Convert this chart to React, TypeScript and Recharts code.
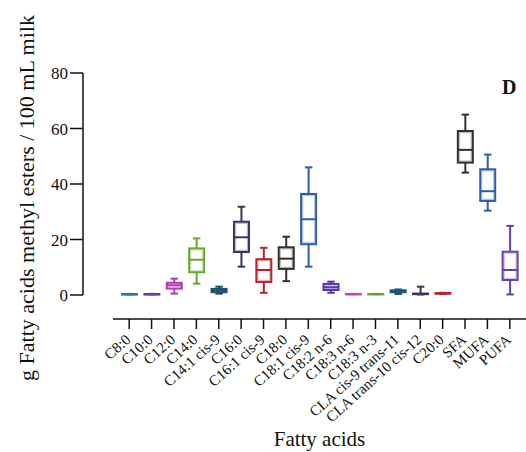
import React from "react";
import { ComposedChart, Bar, XAxis, YAxis } from "recharts";

const fattyAcids = [
  "C8:0",
  "C10:0",
  "C12:0",
  "C14:0",
  "C14:1 cis-9",
  "C16:0",
  "C16:1 cis-9",
  "C18:0",
  "C18:1 cis-9",
  "C18:2 n-6",
  "C18:3 n-6",
  "C18:3 n-3",
  "CLA cis-9 trans-11",
  "CLA trans-10 cis-12",
  "C20:0",
  "SFA",
  "MUFA",
  "PUFA",
];

// five-number summaries (g / 100 mL milk)
const minValues = [0.2, 0.2, 0.5, 4.1, 0.5, 10.2, 0.8, 5.0, 10.2, 0.8, 0.3, 0.3, 0.35, 0.2, 0.4, 44.1, 30.4, 0.2];
const q1Values = [0.25, 0.25, 2.3, 8.2, 1.0, 15.5, 4.7, 9.4, 18.3, 1.8, 0.32, 0.32, 1.0, 0.3, 0.5, 47.7, 33.9, 5.4];
const medianValues = [0.3, 0.3, 3.5, 12.7, 1.6, 20.8, 9.0, 13.1, 27.3, 2.8, 0.35, 0.35, 1.3, 0.4, 0.6, 52.3, 37.4, 9.0];
const q3Values = [0.35, 0.35, 4.4, 16.8, 2.2, 26.4, 12.9, 17.2, 36.4, 4.0, 0.38, 0.38, 1.7, 0.5, 0.7, 59.1, 45.3, 15.6];
const maxValues = [0.4, 0.4, 5.9, 20.4, 3.0, 31.8, 17.0, 21.0, 46.0, 4.8, 0.4, 0.4, 2.0, 3.0, 0.8, 65.0, 50.6, 24.9];

const yTicks = [0, 20, 40, 60, 80];

const boxColors = [
  "#3b6db3", "#6b3fa6", "#b43ab4", "#6aa834", "#1f4e66", "#3c3461",
  "#b3242f", "#2f3329", "#2f5da8", "#5b35a3", "#c246c2", "#62a534",
  "#1f5673", "#3c3461", "#b3242f", "#2f3329", "#2f5da8", "#6a3fb0",
];

const data = fattyAcids.map((name, i) => ({
  name,
  min: minValues[i],
  q1: q1Values[i],
  median: medianValues[i],
  q3: q3Values[i],
  max: maxValues[i],
}));

const serif = "'Liberation Serif', 'Times New Roman', serif";

function BoxShape(props: any) {
  const { x, y, width, height, payload, index } = props;
  const color = boxColors[index];
  const top = Math.min(y, y + height);
  const bottom = Math.max(y, y + height);
  const span = payload.max - payload.min;
  // linear position inside the min..max range bar
  const py = (v: number) => bottom - ((v - payload.min) / span) * (bottom - top);
  const cx = x + width / 2;
  const cap = width * 0.25;
  const yMax = py(payload.max);
  const yQ3 = py(payload.q3);
  const yMed = py(payload.median);
  const yQ1 = py(payload.q1);
  const yMin = py(payload.min);
  return (
    <g stroke={color} strokeWidth={2} fill="none">
      <line x1={cx} x2={cx} y1={yMax} y2={yQ3} />
      <line x1={cx} x2={cx} y1={yQ1} y2={yMin} />
      <line x1={cx - cap} x2={cx + cap} y1={yMax} y2={yMax} />
      <line x1={cx - cap} x2={cx + cap} y1={yMin} y2={yMin} />
      <rect x={x} y={yQ3} width={width} height={Math.max(yQ1 - yQ3, 0.5)} fill="#fff" />
      <rect
        x={x + 1.5}
        y={yQ3 + 1.5}
        width={width - 3}
        height={Math.max(yQ1 - yQ3 - 3, 0)}
        strokeOpacity={0.3}
        strokeWidth={1.5}
      />
      <line x1={x} x2={x + width} y1={yMed} y2={yMed} />
    </g>
  );
}

function XTick(props: any) {
  const { x, y, payload } = props;
  return (
    <g transform={`translate(${x},${y})`}>
      <text
        x={-5}
        y={9}
        textAnchor="end"
        transform="rotate(-42)"
        fontSize={15}
        fontFamily={serif}
        fill="#111"
      >
        {payload.value}
      </text>
    </g>
  );
}

function YTitle(props: any) {
  const { viewBox } = props;
  const cx = viewBox.x + 26;
  const cy = viewBox.y + viewBox.height / 2 + 14;
  return (
    <text
      x={cx}
      y={cy}
      transform={`rotate(-90, ${cx}, ${cy})`}
      textAnchor="middle"
      dominantBaseline="central"
      fontSize={22}
      fontFamily={serif}
      fill="#111"
    >
      g Fatty acids methyl esters / 100 mL milk
    </text>
  );
}

function XTitle(props: any) {
  const { viewBox } = props;
  return (
    <text
      x={viewBox.x + viewBox.width / 2}
      y={viewBox.y + viewBox.height - 6}
      textAnchor="middle"
      fontSize={21}
      fontFamily={serif}
      fill="#111"
    >
      Fatty acids
    </text>
  );
}

export default function App() {
  return (
    <div style={{ position: "absolute", left: 0, top: 0, width: 526, height: 452, background: "#fff" }}>
      <ComposedChart
        width={526}
        height={452}
        data={data}
        margin={{ top: 73, right: 0, bottom: 0, left: 0 }}
      >
        {/* spacer axes push the real axes away from the plot, Prism style */}
        <XAxis xAxisId="a-pad" dataKey="name" height={24} axisLine={false} tickLine={false} tick={false} />
        <XAxis
          xAxisId="b-main"
          dataKey="name"
          height={133}
          interval={0}
          padding={{ left: 5, right: 5 }}
          axisLine={{ stroke: "#111", strokeWidth: 1.5 }}
          tickLine={{ stroke: "#111", strokeWidth: 1.5 }}
          tickSize={10}
          tick={<XTick />}
          label={XTitle}
        />
        <YAxis yAxisId="a-pad" width={30} domain={[0, 80]} axisLine={false} tickLine={false} tick={false} />
        <YAxis
          yAxisId="b-main"
          width={83}
          domain={[0, 80]}
          ticks={yTicks}
          axisLine={{ stroke: "#111", strokeWidth: 1.5 }}
          tickLine={{ stroke: "#111", strokeWidth: 1.5 }}
          tickSize={13}
          tick={{ fontSize: 17, fontFamily: serif, fill: "#111" }}
          label={YTitle}
        />
        <Bar
          xAxisId="b-main"
          yAxisId="b-main"
          dataKey={(d: any) => [d.min, d.max]}
          barSize={15}
          shape={<BoxShape />}
          isAnimationActive={false}
        />
      </ComposedChart>
      <div
        style={{
          position: "absolute",
          left: 502,
          top: 76,
          fontFamily: serif,
          fontWeight: "bold",
          fontSize: 20,
          color: "#111",
        }}
      >
        D
      </div>
    </div>
  );
}
